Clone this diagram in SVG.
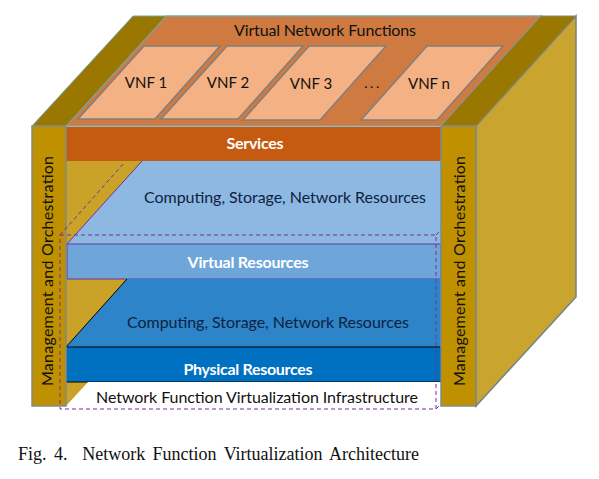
<svg xmlns="http://www.w3.org/2000/svg" width="599" height="479" viewBox="0 0 599 479">
<style>
text{font-family:Lato,"Open Sans","Liberation Sans",sans-serif;text-anchor:middle;font-size:16px;fill:#111}
.w{fill:#fff;font-weight:700}
.d{fill:#0e2240}
.v{font-size:15px}
.vnf{fill:#f4b183;stroke:#7f7f7f;stroke-width:1.500}
.pil{fill:#bf9000;stroke:#7f8c8d;stroke-width:1.500}
.gold{fill:#c9a227}
.dash{fill:none;stroke:#7030a0;stroke-width:1;stroke-dasharray:4 3}
</style>
<rect width="599" height="479" fill="#fff"/>
<g id="right-side"><polygon points="476,126 576,16 576,297 476,406" fill="#c9a52f" stroke="#72848a" stroke-width="1.500"/></g>
<g id="top-plane"><polygon points="66,126 166,16 541,16 441,126" fill="#cf7a40" stroke="#7fa3a8" stroke-width="1.500"/>
<text x="325" y="36" textLength="182">Virtual Network Functions</text></g>
<g id="top-left-band"><polygon points="32,126 133,16 166,16 66,126" fill="#9a7700" stroke="#6fa8b0" stroke-width="1"/></g>
<g id="top-right-band"><polygon points="441,126 541,16 576,16 476,126" fill="#9a7700" stroke="#7f8c8d" stroke-width="1"/></g>
<g id="vnf1"><polygon class="vnf" points="78,119 144,46 220,46 155,119"/><text class="v" x="146" y="88">VNF 1</text></g>
<g id="vnf2"><polygon class="vnf" points="161,119 227,46 303,46 238,119"/><text class="v" x="228" y="88">VNF 2</text></g>
<g id="vnf3"><polygon class="vnf" points="243,120 309,46 386,46 320,120"/><text class="v" x="311" y="89">VNF 3</text></g>
<g id="dots"><text x="373" y="88" style="letter-spacing:2.500px;font-size:14px">...</text></g>
<g id="vnfn"><polygon class="vnf" points="361,120 427,46 503,46 437,120"/><text class="v" x="429" y="89">VNF n</text></g>
<g id="back-wall"><rect x="66" y="161" width="375" height="245" class="gold"/></g>
<g id="services"><rect x="66" y="127" width="375" height="34" fill="#c55a11"/><text class="w" x="255" y="149" textLength="57">Services</text></g>
<g id="virtual-plane"><polygon points="142,161 441,161 441,244 67,244" fill="#8db8e2"/><line x1="142" y1="161" x2="67" y2="244" stroke="#7030a0"/>
<text class="d" x="285" y="203" textLength="282">Computing, Storage, Network Resources</text></g>
<g id="virtual-resources"><rect x="67" y="244" width="374" height="35" fill="#6fa6da" stroke="#7030a0" stroke-width="1"/><text class="w" x="248" y="268" textLength="121">Virtual Resources</text></g>
<g id="physical-plane"><polygon points="127,279 441,279 441,347 66,347" fill="#2e84c8"/><line x1="127" y1="279" x2="66" y2="347" stroke="#000"/>
<text class="d" x="268" y="328" textLength="282">Computing, Storage, Network Resources</text></g>
<g id="physical-resources"><rect x="65.500" y="347" width="375.500" height="35" fill="#0070c0" stroke="#000" stroke-width="1"/><text class="w" x="248" y="375" textLength="129">Physical Resources</text></g>
<g id="nfvi"><polygon points="88,382 441,382 441,406 436,409 60,409 66,406" fill="#fff"/>
<text x="257" y="403" textLength="322">Network Function Virtualization Infrastructure</text></g>
<g id="left-pillar"><rect class="pil" x="32" y="126" width="34" height="280"/><text transform="translate(53,271) rotate(-90)" textLength="230">Management and Orchestration</text></g>
<g id="right-pillar"><rect class="pil" x="441" y="126" width="35" height="280"/><text transform="translate(465,271) rotate(-90)" textLength="230">Management and Orchestration</text></g>
<g id="connectors"><rect class="dash" x="60" y="235" width="376" height="174"/><line class="dash" x1="60" y1="235" x2="125" y2="162"/><line class="dash" x1="436" y1="235" x2="441" y2="230"/><line class="dash" x1="436" y1="409" x2="441" y2="404"/></g>
<g id="caption"><text x="18" y="460" style="font-family:'Liberation Serif',serif;text-anchor:start;font-size:18px;word-spacing:2.900px;white-space:pre">Fig. 4.  Network Function Virtualization Architecture</text></g>
</svg>
